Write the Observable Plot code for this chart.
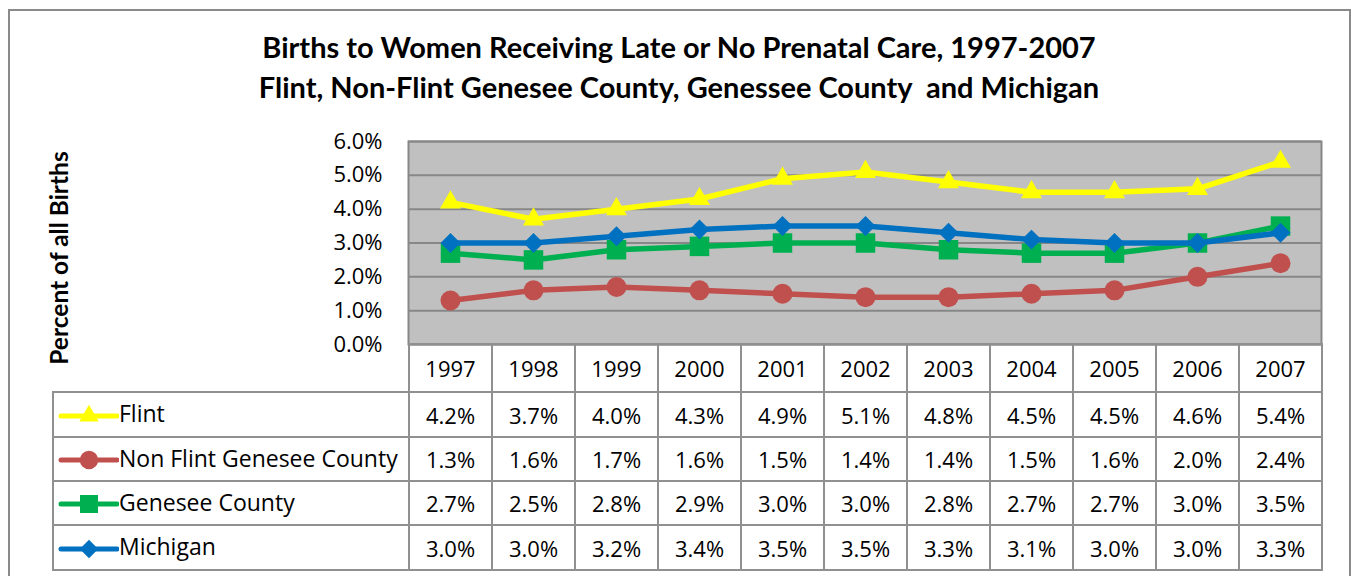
<!DOCTYPE html>
<html><head><meta charset="utf-8">
<script src="https://cdn.jsdelivr.net/npm/d3@7"></script>
<script src="https://cdn.jsdelivr.net/npm/@observablehq/plot@0.6"></script>
<style>
html,body{margin:0;padding:0;background:#fff;}
#wrap{position:relative;width:1351px;height:576px;overflow:hidden;font-family:"Open Sans",sans-serif;color:#000;}
#border{position:absolute;left:8px;top:9px;width:1343px;height:620px;border:2px solid #8a8a8a;box-sizing:border-box;}
.title{position:absolute;left:0;width:1358px;text-align:center;font-family:Lato,sans-serif;font-weight:bold;font-size:29px;line-height:34px;white-space:pre;}
#ytitle{position:absolute;left:-91px;top:245px;width:300px;height:26px;line-height:26px;text-align:center;font-family:Lato,sans-serif;font-weight:bold;font-size:24.5px;transform:rotate(-90deg);white-space:nowrap;}
#chart{position:absolute;left:0;top:120px;}
#tbl{position:absolute;left:52px;top:343px;border-collapse:collapse;table-layout:fixed;width:1269px;font-family:"Open Sans",sans-serif;font-size:22px;}
#tbl td{border:2px solid #909090;text-align:center;padding:0;white-space:nowrap;line-height:26px;}
#tbl td.key{text-align:left;padding-left:3px;font-size:23px;}
#tbl td.blank{border-top:none;border-left:none;}
#tbl svg{vertical-align:middle;}
</style></head>
<body>
<div id="wrap">
  <div id="border"></div>
  <div class="title" style="top:30px">Births to Women Receiving Late or No Prenatal Care, 1997-2007</div>
  <div class="title" style="top:70px">Flint, Non-Flint Genesee County, Genessee County  and Michigan</div>
  <div id="ytitle">Percent of all Births</div>
  <div id="chart"></div>
  <table id="tbl"></table>
</div>
<script>
const years = ["1997","1998","1999","2000","2001","2002","2003","2004","2005","2006","2007"];
const flint    = [4.2, 3.7, 4.0, 4.3, 4.9, 5.1, 4.8, 4.5, 4.5, 4.6, 5.4];
const nonFlint = [1.3, 1.6, 1.7, 1.6, 1.5, 1.4, 1.4, 1.5, 1.6, 2.0, 2.4];
const genesee  = [2.7, 2.5, 2.8, 2.9, 3.0, 3.0, 2.8, 2.7, 2.7, 3.0, 3.5];
const michigan = [3.0, 3.0, 3.2, 3.4, 3.5, 3.5, 3.3, 3.1, 3.0, 3.0, 3.3];
const seriesNames = ["Flint", "Non Flint Genesee County", "Genesee County", "Michigan"];
const yTicks = [0, 1, 2, 3, 4, 5, 6];

const fmt = v => v.toFixed(1) + "%";
const series = [
  {name: seriesNames[0], values: flint,    color: "#ffff00", symbol: "triangle", d3sym: d3.symbolTriangle, r: 7.8},
  {name: seriesNames[1], values: nonFlint, color: "#c0504d", symbol: "circle",   d3sym: d3.symbolCircle,   r: 10},
  {name: seriesNames[2], values: genesee,  color: "#00b050", symbol: "square",   d3sym: d3.symbolSquare,   r: 11},
  {name: seriesNames[3], values: michigan, color: "#0070c0", symbol: "diamond2", d3sym: d3.symbolDiamond2, r: 9}
];

const marks = [
  Plot.frame({fill: "#c0c0c0"}),
  Plot.ruleY(yTicks, {stroke: "#878787", strokeWidth: 2}),
  Plot.frame({stroke: "#878787", strokeWidth: 2}),
  Plot.axisY(yTicks, {tickSize: 0, tickPadding: 26, tickFormat: fmt, label: null, fontSize: 22})
];
for (const s of series) {
  const rows = s.values.map((v, i) => ({year: years[i], value: v}));
  marks.push(Plot.line(rows, {x: "year", y: "value", stroke: s.color, strokeWidth: 5.5, strokeLinejoin: "round", strokeLinecap: "round"}));
  marks.push(Plot.dot(rows, {x: "year", y: "value", symbol: s.symbol, r: s.r, fill: s.color, stroke: "none"}));
}

const chart = Plot.plot({
  width: 1351, height: 224,
  marginLeft: 408, marginRight: 30, marginTop: 21, marginBottom: 0,
  x: {type: "point", domain: years, padding: 0.5, axis: null},
  y: {domain: [0, 6]},
  style: {fontFamily: "'Open Sans', sans-serif", fontSize: "22px", color: "#000", background: "transparent", overflow: "visible"},
  marks
});
document.getElementById("chart").appendChild(chart);

// Data table with legend keys
const tbl = d3.select("#tbl");
const cg = tbl.append("colgroup");
cg.append("col").style("width", "356px");
years.forEach(() => cg.append("col").style("width", "83px"));
const hr = tbl.append("tr").style("height", "48px");
hr.append("td").attr("class", "blank");
years.forEach(y => hr.append("td").text(y));
const rowH = [45, 44, 44, 45];
series.forEach((s, k) => {
  const tr = tbl.append("tr").style("height", rowH[k] + "px");
  const td = tr.append("td").attr("class", "key");
  const svg = td.append("svg").attr("width", 62).attr("height", 26);
  svg.append("line").attr("x1", 4).attr("x2", 60).attr("y1", 13).attr("y2", 13)
    .attr("stroke", s.color).attr("stroke-width", 5).attr("stroke-linecap", "round");
  svg.append("path").attr("transform", "translate(32,13)")
    .attr("d", d3.symbol(s.d3sym, Math.PI * s.r * s.r * 0.85)()).attr("fill", s.color);
  td.append("span").text(s.name);
  s.values.forEach(v => tr.append("td").text(fmt(v)));
});
</script>
</body></html>
